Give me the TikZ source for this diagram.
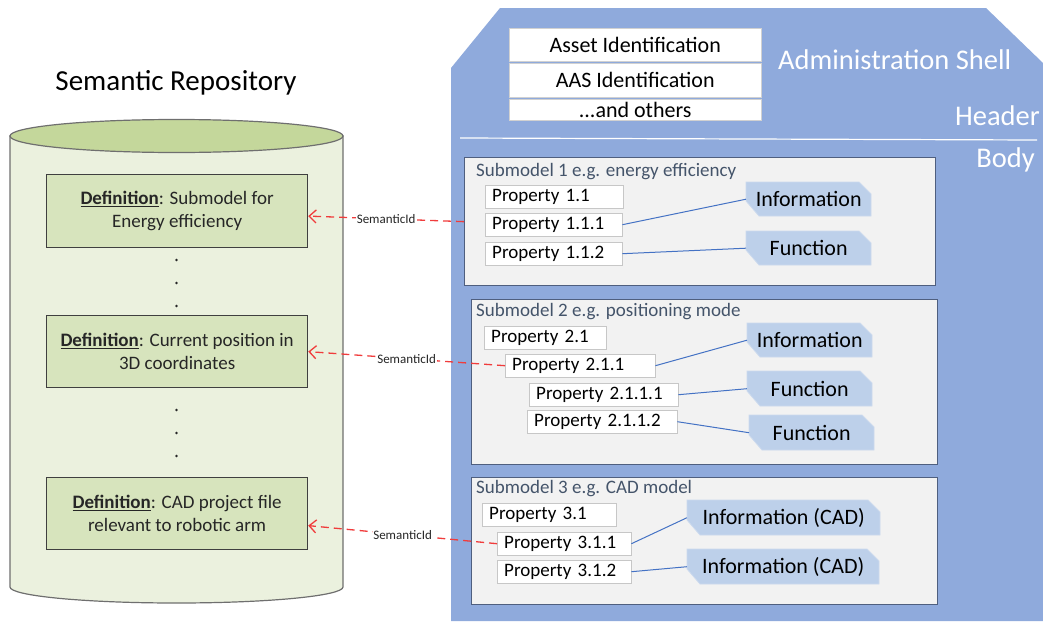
\documentclass[tikz,border=0pt]{standalone}
\usepackage{fontspec}
\setmainfont{Carlito}
\usetikzlibrary{arrows.meta}

\definecolor{shellblue}{HTML}{8FAADC}
\definecolor{smfill}{HTML}{F2F2F2}
\definecolor{smborder}{HTML}{4F5F7F}
\definecolor{smtext}{HTML}{44546A}
\definecolor{tagblue}{HTML}{BDD0EA}
\definecolor{tagedge}{HTML}{CCDAEE}
\definecolor{linkblue}{HTML}{4472C4}
\definecolor{semred}{HTML}{F03C3C}
\definecolor{cylbody}{HTML}{EBF1DE}
\definecolor{cyltop}{HTML}{C4D79B}
\definecolor{cylline}{HTML}{6F6F6F}
\definecolor{deffill}{HTML}{D7E4BD}
\definecolor{defline}{HTML}{3F3F3F}

\newcommand\defword{\underline{\textbf{Definition}}}

% chamfered tag: name, left x, top y, width, height, text
\newcommand\tagat[6]{%
  \filldraw[fill=tagblue, draw=tagedge, line width=0.8pt]
    (#2,#3) -- (#2+#4-12,#3) -- (#2+#4,#3+12) -- (#2+#4,#3+#5)
    -- (#2+13,#3+#5) -- (#2,#3+#5-15) -- cycle;
  \node[tagtext, minimum width=#4pt, minimum height=#5pt, anchor=north west] (#1) at (#2,#3) {#6};
}

\tikzset{
  hdrbox/.style={draw=black!18, fill=white, anchor=north west, inner sep=0pt,
    minimum width=252pt, font=\fontsize{22}{26}\selectfont},
  shelllabel/.style={text=white, inner sep=0pt, font=\fontsize{28.5}{32}\selectfont},
  smbox/.style={draw=smborder, fill=smfill, line width=1.3pt, anchor=north west, inner sep=0pt},
  smtitle/.style={text=smtext, anchor=west, inner sep=0pt, font=\fontsize{19}{23}\selectfont},
  propbox/.style={draw=black!22, fill=white, anchor=north west, inner xsep=7pt, inner ysep=0pt,
    minimum height=23pt, align=left, text width=#1, font=\fontsize{19}{23}\selectfont},
  tagtext/.style={inner sep=0pt, font=\fontsize{22}{26}\selectfont},
  link/.style={draw=linkblue, line width=1pt},
  defbox/.style={draw=defline, fill=deffill, line width=1.2pt, anchor=north west, inner sep=0pt,
    minimum width=261pt, align=center, text=black!85, font=\fontsize{19}{23.5}\selectfont},
  semlink/.style={draw=semred, line width=1.3pt, dash pattern=on 8pt off 5pt,
    -{Straight Barb[length=7pt,width=13pt]}},
  semlabel/.style={fill=white, inner sep=0.8pt, text=black!85, font=\fontsize{13}{15}\selectfont}
}

\begin{document}
\begin{tikzpicture}[x=1pt,y=-1pt]
\useasboundingbox (0,0) rectangle (1043,621);

% ---------- semantic repository (cylinder) ----------
\node[font=\fontsize{29}{34}\selectfont, inner sep=0pt] (reptitle) at (176,83) {Semantic Repository};
\filldraw[fill=cylbody, draw=cylline, line width=1.2pt]
  (10,136) -- (10,587) .. controls (10,595.8) and (84.6,603) .. (176.5,603)
  .. controls (268.4,603) and (343,595.8) .. (343,587) -- (343,136) -- cycle;
\filldraw[fill=cyltop, draw=cylline, line width=1.2pt] (176.5,136) ellipse [x radius=166.5pt, y radius=16.5pt];

\node[defbox, minimum height=73pt] (def1) at (46,174) {\defword: Submodel for\\Energy efficiency};
\node[defbox, minimum height=72pt] (def2) at (46,315) {\defword: Current position in\\3D coordinates};
\node[defbox, minimum height=72pt] (def3) at (46,477) {\defword: CAD project file\\relevant to robotic arm};

\foreach \yy in {260,283,306,410,433,456}
  \fill[black!85] (176.5,\yy) circle[radius=1.4pt];

% ---------- administration shell ----------
\fill[shellblue] (451,68) -- (500,8) -- (986,8) -- (1043,63) -- (1043,621) -- (451,621) -- cycle;

\node[hdrbox, minimum height=33pt] (assetid) at (509,28) {Asset Identification};
\node[hdrbox, minimum height=34pt] (aasid) at (509,63) {AAS Identification};
\node[hdrbox, minimum height=21pt] (others) at (509,99) {...and others};

\node[shelllabel, anchor=west] (shellname) at (778,60) {Administration Shell};
\node[shelllabel, anchor=east] (headerlbl) at (1040,116) {Header};
\draw[white, line width=1.2pt] (460,138) -- (1037,140);
\node[shelllabel, anchor=east] (bodylbl) at (1035,160) {Body};

% ---------- submodel 1 ----------
\node[smbox, minimum width=471pt, minimum height=128pt] (sm1) at (464,157) {};
\node[smtitle] (sm1t) at (476,172) {Submodel 1 e.g. energy efficiency};
\node[propbox=124pt] (p11) at (485,185) {Property 1.1};
\node[propbox=123pt] (p111) at (485,213) {Property 1.1.1};
\node[propbox=123pt] (p112) at (485,242) {Property 1.1.2};
\tagat{t1i}{746}{182}{125}{34}{Information}
\tagat{t1f}{746}{231}{125}{34}{Function}
\draw[link] (p111.east) -- (t1i.west);
\draw[link] (p112.east) -- (t1f.west);

% ---------- submodel 2 ----------
\node[smbox, minimum width=466pt, minimum height=165pt] (sm2) at (471,299) {};
\node[smtitle] (sm2t) at (476,312) {Submodel 2 e.g. positioning mode};
\node[propbox=108pt] (p21) at (484,326) {Property 2.1};
\node[propbox=136pt] (p211) at (505,354) {Property 2.1.1};
\node[propbox=135pt] (p2111) at (529,383) {Property 2.1.1.1};
\node[propbox=136pt] (p2112) at (527,410) {Property 2.1.1.2};
\tagat{t2i}{747}{323}{125}{34}{Information}
\tagat{t2f1}{747}{371}{125}{35}{Function}
\tagat{t2f2}{749}{415}{125}{35}{Function}
\draw[link] (p211.east) -- (t2i.west);
\draw[link] (p2111.east) -- (t2f1.west);
\draw[link] (p2112.east) -- (t2f2.west);

% ---------- submodel 3 ----------
\node[smbox, minimum width=466pt, minimum height=127pt] (sm3) at (471,477) {};
\node[smtitle] (sm3t) at (476,489) {Submodel 3 e.g. CAD model};
\node[propbox=120pt] (p31) at (482,503) {Property 3.1};
\node[propbox=120pt] (p311) at (497,532) {Property 3.1.1};
\node[propbox=120pt] (p312) at (497,560) {Property 3.1.2};
\tagat{t3i1}{687}{500}{193}{35}{Information (CAD)}
\tagat{t3i2}{687}{549}{192}{35}{Information (CAD)}
\draw[link] (p311.east) -- (t3i1.west);
\draw[link] (p312.east) -- (t3i2.west);

% ---------- semantic references ----------
\draw[semlink] (sm1.west) -- node[semlabel] {SemanticId} ([yshift=-5pt]def1.east);
\draw[semlink] (p211.west) -- node[semlabel] {SemanticId} (def2.east);
\draw[semlink] (p311.west) -- node[semlabel] {SemanticId} ([yshift=-12pt]def3.east);
\end{tikzpicture}
\end{document}
